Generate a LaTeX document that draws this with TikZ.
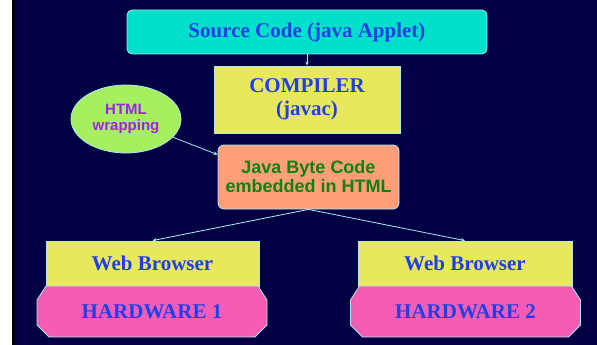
\documentclass[tikz,border=0pt]{standalone}
\usepackage{fontspec}
\setmainfont{Liberation Serif}
\setsansfont{Liberation Sans}
\usetikzlibrary{shapes.geometric,arrows.meta}

\definecolor{slidebg}{HTML}{000042}
\definecolor{edgeline}{HTML}{A8E8F0}
\definecolor{srccyan}{HTML}{00DFCA}
\definecolor{compyellow}{HTML}{E8E85C}
\definecolor{wrapgreen}{HTML}{A6F060}
\definecolor{bytesalmon}{HTML}{FF9F7A}
\definecolor{hwpink}{HTML}{F75CB5}
\definecolor{textblue}{HTML}{1F40E6}
\definecolor{textpurple}{HTML}{A020F0}
\definecolor{textgreen}{HTML}{108010}

\tikzset{
    box/.style={draw=edgeline, line width=0.8pt, inner sep=0pt, align=center,
        text=textblue, font=\fontsize{21}{23}\selectfont\bfseries},
    link/.style={draw=edgeline, line width=0.8pt,
        -{Stealth[length=4pt,width=3.5pt]}},
    hwline/.style={draw=edgeline, line width=0.8pt, fill=hwpink},
    hwtext/.style={box, draw=none, minimum width=230pt, minimum height=51pt},
}

\begin{document}
\begin{tikzpicture}[x=1pt,y=-1pt]
    % slide background
    \fill[white] (0,0) rectangle (597,345);
    \fill[black] (12,0) rectangle (15,345);
    \fill[slidebg] (15,0) rectangle (597,345);

    % compile chain
    \node[box, fill=srccyan, rounded corners=5pt,
        minimum width=360pt, minimum height=44pt] (src) at (307,32)
        {Source Code (java Applet)};
    \node[box, fill=compyellow, minimum width=186pt, minimum height=67pt]
        (comp) at (307,99.5) {COMPILER\\(javac)};
    \node[box, ellipse, fill=wrapgreen, text=textpurple,
        font=\fontsize{15}{16}\selectfont\sffamily\bfseries,
        minimum width=110pt, minimum height=68pt] (wrap) at (126,119)
        {HTML\\wrapping};
    \node[box, fill=bytesalmon, rounded corners=6pt, text=textgreen,
        font=\fontsize{18}{19}\selectfont\sffamily\bfseries,
        minimum width=181pt, minimum height=64pt] (java) at (308.5,177)
        {Java Byte Code\\embedded in HTML};

    % the two clients: browser on top of a clipped-corner hardware block
    \node[box, fill=compyellow, minimum width=213pt, minimum height=45pt]
        (web1) at (152.5,263.5) {Web Browser};
    \node[box, fill=compyellow, minimum width=214pt, minimum height=45pt]
        (web2) at (465,263.5) {Web Browser};
    \foreach \cx/\nm/\lbl in {152/hw1/HARDWARE 1, 465.5/hw2/HARDWARE 2} {
        \draw[hwline] (\cx-106,286) -- (\cx+106,286) -- (\cx+115,300)
            -- (\cx+115,325) -- (\cx+103,337) -- (\cx-103,337)
            -- (\cx-115,325) -- (\cx-115,300) -- cycle;
        \node[hwtext] (\nm) at (\cx,311.5) {\lbl};
    }

    \draw[link] (src) -- (comp);
    \draw[link] (wrap) -- ([yshift=-10pt]java.north west);
    \draw[link] (java.south) -- (web1.north);
    \draw[link] (java.south) -- (web2.north);
\end{tikzpicture}
\end{document}
